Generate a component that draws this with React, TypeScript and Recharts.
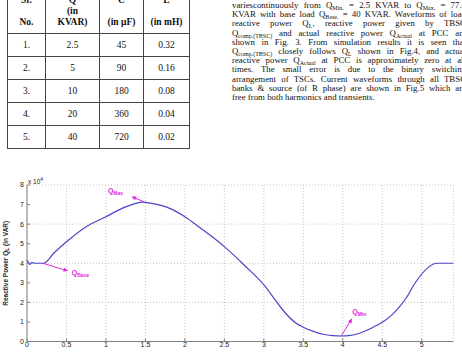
import React from 'react';
import {
  LineChart,
  Line,
  XAxis,
  YAxis,
  CartesianGrid,
  ReferenceLine,
  ReferenceDot,
  Label,
} from 'recharts';

// capacitor bank table
const bankNo = ['1.', '2.', '3.', '4.', '5.'];
const bankKvar = ['2.5', '5', '10', '20', '40'];
const bankCap = ['45', '90', '180', '360', '720'];
const bankInd = ['0.32', '0.16', '0.08', '0.04', '0.02'];

// load reactive power profile: time (s) and Q_L (VAR)
const timeSec = [
  0, 0.015, 0.035, 0.06, 0.09, 0.13, 0.21, 0.35, 0.5, 0.75, 1.0, 1.25, 1.47, 1.56,
  1.8, 2.0, 2.2, 2.5, 2.75, 3.02, 3.12, 3.24, 3.41, 3.5, 3.62, 3.75, 3.87, 3.98,
  4.1, 4.26, 4.38, 4.51, 4.62, 4.72, 4.81, 4.9, 5.2, 5.4,
];
const qLoad = [
  41800, 40600, 39400, 40300, 40100, 40000, 40000, 45600, 51000, 58700, 63800, 68800,
  71200, 70700, 68200, 63800, 57900, 48500, 39100, 28000, 22600, 16100, 9300, 7300,
  5300, 3700, 3000, 2800, 3100, 5000, 7200, 10100, 13500, 17800, 22600, 28900, 40000,
  40000,
];
const xTicks = [0, 0.5, 1, 1.5, 2, 2.5, 3, 3.5, 4, 4.5, 5];
const yTicks = [0, 10000, 20000, 30000, 40000, 50000, 60000, 70000, 80000];

const data = timeSec.map((t, i) => ({ t, q: qLoad[i] }));

// Q_Max / Q_Base / Q_Min call-outs
const notes = [
  { sub: 'Max', from: { x: 1.49, y: 71300 }, to: { x: 1.32, y: 74100 }, at: { x: 1.025, y: 75700 } },
  { sub: 'Base', from: { x: 0.2, y: 40000 }, to: { x: 0.524, y: 36000 }, at: { x: 0.566, y: 34000 } },
  { sub: 'Min', from: { x: 3.98, y: 2800 }, to: { x: 4.12, y: 11900 }, at: { x: 4.12, y: 14100 } },
];

const paragraph = [
  'variescontinuously from Q_{Min.} = 2.5 KVAR to Q_{Max.} = 77.5',
  'KVAR with base load Q_{Base.} = 40 KVAR. Waveforms of load',
  'reactive power Q_{L}, reactive power given by TBSC',
  'Q_{comp.(TBSC)} and actual reactive power Q_{Actual} at PCC are',
  'shown in Fig. 3. From simulation results it is seen that',
  'Q_{comp.(TBSC)} closely follows Q_{L} shown in Fig.4, and actual',
  'reactive power Q_{Actual} at PCC is approximately zero at all',
  'times. The small error is due to the binary switching',
  'arrangement of TSCs. Current waveforms through all TBSC',
  'banks & source (of R phase) are shown in Fig.5 which are',
  'free from both harmonics and transients.',
];

const serif = '"Liberation Serif", "Times New Roman", serif';
const sans = '"Liberation Sans", Arial, sans-serif';
const magenta = '#dc26dc';
const axisGray = '#808080';

function withSubs(line: string) {
  const parts = line.split(/_\{([^}]*)\}/);
  return parts.map((p, i) =>
    i % 2 === 1 ? (
      <span key={i} style={{ fontSize: '6px', position: 'relative', top: 2 }}>{p}</span>
    ) : (
      <React.Fragment key={i}>{p}</React.Fragment>
    )
  );
}

const arrow = (props: any) => {
  const { x1, y1, x2, y2 } = props;
  const a = Math.atan2(y2 - y1, x2 - x1);
  const len = 5;
  const w = 2;
  const bx = x2 - len * Math.cos(a);
  const by = y2 - len * Math.sin(a);
  const pts = `${x2},${y2} ${bx - w * Math.sin(a)},${by + w * Math.cos(a)} ${bx + w * Math.sin(a)},${by - w * Math.cos(a)}`;
  return (
    <g>
      <line x1={x1} y1={y1} x2={bx} y2={by} stroke={magenta} strokeWidth={1} />
      <polygon points={pts} fill={magenta} />
    </g>
  );
};

const qLabel = (sub: string) => (props: any) => {
  const { x, y } = props.viewBox;
  return (
    <text x={x} y={y} fill={magenta} fontFamily={sans} fontWeight="bold" fontSize={7}>
      Q
      <tspan dy={2} fontSize={5}>{sub}</tspan>
    </text>
  );
};

const yTitle = (props: any) => {
  const { y, height } = props.viewBox;
  const cy = y + height / 2;
  return (
    <text
      x={5}
      y={cy}
      transform={`rotate(-90, 5, ${cy})`}
      textAnchor="middle"
      dominantBaseline="central"
      fontFamily={sans}
      fontWeight="bold"
      fontSize={6.5}
      fill="#222"
    >
      Reactive Power Q<tspan dy={2} fontSize={5}>L</tspan>
      <tspan dy={-2}> (in VAR)</tspan>
    </text>
  );
};

const exponent = (props: any) => {
  const { x, y, width } = props.viewBox;
  return (
    <text x={x + width + 1} y={y - 1} fontFamily={sans} fontSize={6.5} fill="#222">
      x 10<tspan dy={-3} fontSize={5}>4</tspan>
    </text>
  );
};

const chartTitle = (props: any) => {
  const { x, y, width } = props.viewBox;
  return (
    <text
      x={x + width / 2}
      y={y - 7}
      textAnchor="middle"
      fontFamily={sans}
      fontWeight="bold"
      fontSize={7.5}
      fill="#9b2fa6"
    >
      Reactive Power (Q<tspan dy={2} fontSize={5}>L</tspan>
      <tspan dy={-2}>)  v/s Time</tspan>
    </text>
  );
};

const cell: React.CSSProperties = {
  border: '1.5px solid #444',
  textAlign: 'center',
  verticalAlign: 'middle',
  padding: 0,
  height: 22,
};

export default function App() {
  const header = [
    ['Sr.', '', 'No.'],
    ['Q', '(in', 'KVAR)'],
    ['C', '', '(in \u00b5F)'],
    ['L', '', '(in mH)'],
  ];
  const widths = [38, 54, 44, 46];
  return (
    <div
      style={{
        position: 'absolute',
        left: 0,
        top: 0,
        width: 462,
        height: 354,
        overflow: 'hidden',
        background: '#fff',
      }}
    >
      <table
        style={{
          position: 'absolute',
          left: 7,
          top: -12,
          borderCollapse: 'collapse',
          tableLayout: 'fixed',
          fontFamily: serif,
          fontSize: 9.5,
          color: '#111',
        }}
      >
        <colgroup>
          {widths.map((w, i) => (
            <col key={i} style={{ width: w }} />
          ))}
        </colgroup>
        <thead>
          <tr>
            {header.map((h, i) => (
              <th key={i} style={{ ...cell, height: 44, fontWeight: 'bold', lineHeight: '11px' }}>
                {h.map((s, j) => (
                  <div key={j} style={{ height: 11 }}>{s}</div>
                ))}
              </th>
            ))}
          </tr>
        </thead>
        <tbody>
          {bankNo.map((n, i) => (
            <tr key={n}>
              <td style={cell}>{n}</td>
              <td style={cell}>{bankKvar[i]}</td>
              <td style={cell}>{bankCap[i]}</td>
              <td style={cell}>{bankInd[i]}</td>
            </tr>
          ))}
        </tbody>
      </table>

      <div
        style={{
          position: 'absolute',
          left: 232,
          top: 1,
          width: 234,
          fontFamily: serif,
          fontSize: 8.8,
          color: '#111',
        }}
      >
        {paragraph.map((line, i) => (
          <div
            key={i}
            style={{
              height: 9.2,
              lineHeight: '9.2px',
              whiteSpace: 'nowrap',
              textAlign: 'justify',
              textAlignLast: i === paragraph.length - 1 ? 'left' : 'justify',
            }}
          >
            {withSubs(line)}
          </div>
        ))}
      </div>

      <div style={{ position: 'absolute', left: 0, top: 160 }}>
        <LineChart width={462} height={194} data={data} margin={{ top: 25, right: 8.7, bottom: 0, left: 0 }}>
          <CartesianGrid stroke="#c4c4c4" strokeDasharray="1 2" />
          <XAxis
            dataKey="t"
            type="number"
            domain={[0, 5.4]}
            ticks={xTicks}
            height={12.5}
            stroke={axisGray}
            tickSize={-3}
            tickMargin={4}
            tick={{ fontSize: 7, fontFamily: sans, fill: '#222' }}
          />
          <XAxis
            xAxisId="top"
            orientation="top"
            type="number"
            domain={[0, 5.4]}
            ticks={xTicks}
            height={0}
            stroke={axisGray}
            tickSize={-3}
            tick={false}
          >
            <Label content={chartTitle} />
          </XAxis>
          <YAxis
            type="number"
            domain={[0, 80000]}
            ticks={yTicks}
            width={27}
            stroke={axisGray}
            tickSize={-3}
            tickMargin={6}
            tickFormatter={(v) => `${v / 10000}`}
            tick={{ fontSize: 7, fontFamily: sans, fill: '#222' }}
          >
            <Label content={yTitle} />
            <Label content={exponent} />
          </YAxis>
          <YAxis
            yAxisId="right"
            orientation="right"
            type="number"
            domain={[0, 80000]}
            ticks={yTicks}
            width={0}
            stroke={axisGray}
            tickSize={-3}
            tick={false}
          />
          <Line
            type="monotone"
            dataKey="q"
            stroke="#4c45c6"
            strokeWidth={1.2}
            dot={false}
            isAnimationActive={false}
          />
          {notes.map((n) => (
            <ReferenceLine key={`a-${n.sub}`} segment={[n.from, n.to]} shape={arrow} />
          ))}
          {notes.map((n) => (
            <ReferenceDot
              key={`l-${n.sub}`}
              x={n.at.x}
              y={n.at.y}
              r={0}
              stroke="none"
              fill="none"
              label={{ content: qLabel(n.sub) }}
            />
          ))}
        </LineChart>
      </div>
    </div>
  );
}
